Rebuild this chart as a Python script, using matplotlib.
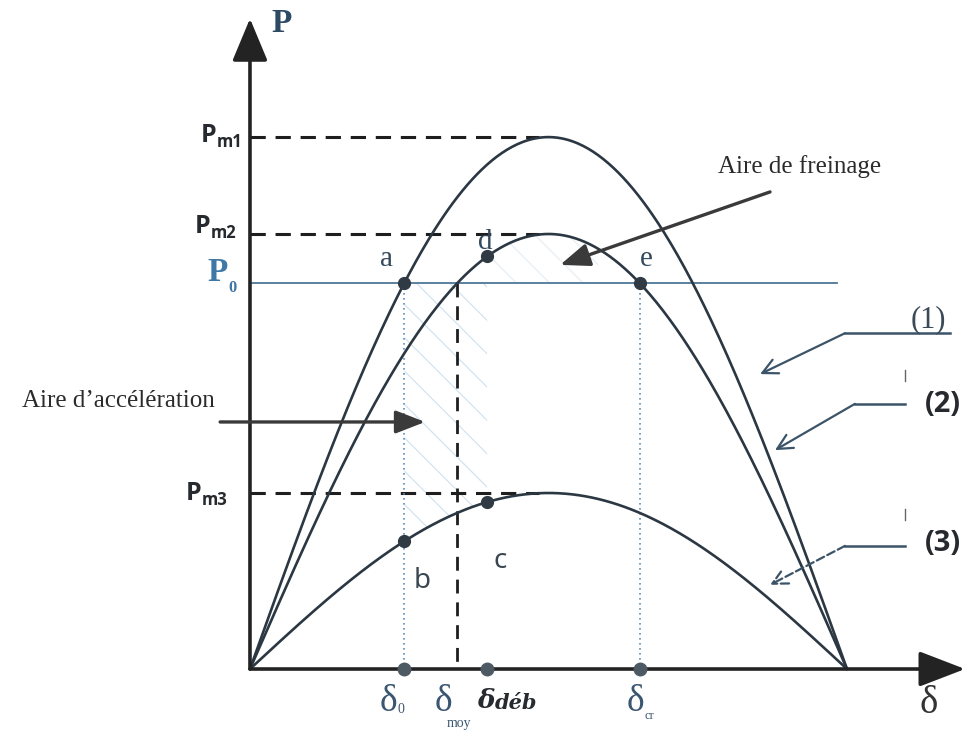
import numpy as np
import matplotlib
matplotlib.use("Agg")
import matplotlib.pyplot as plt

# power-angle curves P = Pm sin(delta), values in p.u. of the mechanical power P0
curve_names = ["(1)", "(2)", "(3)"]
p_max = [1.378, 1.127, 0.456]          # Pm1 (pre-fault), Pm2 (post-fault), Pm3 (during fault)
p_mech = 1.0                           # P0
delta_clear = 71.5                     # delta_deb, fault clearing angle (deg)
delta_brake_end = 105.0                # end of the hatched braking area (deg)

blue = "#3f78a6"

plt.rcParams["font.family"] = ["Liberation Serif", "DejaVu Sans"]
plt.rcParams["hatch.linewidth"] = 0.9

fig = plt.figure(figsize=(9.77, 7.31), dpi=100)
ax = fig.add_axes([0, 0, 1, 1])
ax.set_xlim(-75.37, 219.2)
ax.set_ylim(-0.1606, 1.7332)
ax.axis("off")

rad = np.radians
delta = np.linspace(0, 180, 361)
curves = [pm * np.sin(rad(delta)) for pm in p_max]

# characteristic angles
delta0 = np.degrees(np.arcsin(p_mech / p_max[0]))
delta_moy = np.degrees(np.arcsin(p_mech / p_max[1]))
delta_cr = 180 - delta_moy

# hatched areas (faint)
d_acc = np.linspace(delta0, delta_clear, 100)
ax.fill_between(d_acc, p_max[2] * np.sin(rad(d_acc)), p_mech, facecolor="none",
                edgecolor="#d3e3f0", hatch="\\", linewidth=0, zorder=1)
d_brk = np.linspace(delta_clear, delta_brake_end, 100)
ax.fill_between(d_brk, p_mech, p_max[1] * np.sin(rad(d_brk)), facecolor="none",
                edgecolor="#e6eef5", hatch="\\", linewidth=0, zorder=1)

# curves
for c in curves:
    ax.plot(delta, c, color="#2b3742", lw=1.9, zorder=3, solid_capstyle="round")

# Pm dashed levels
for pm in p_max:
    ax.plot([0, 87], [pm, pm], color="#1e1e1e", lw=2.2, dashes=(5, 3.2), zorder=2)

# P0 line
ax.plot([0, 177], [p_mech, p_mech], color="#4d7799", lw=1.3, zorder=2)

# verticals
ax.plot([delta0, delta0], [p_mech, 0], color="#5b8fc0", lw=1.2, ls=(0, (1, 2)), zorder=2)
ax.plot([delta_cr, delta_cr], [p_mech, 0], color="#5b8fc0", lw=1.2, ls=(0, (1, 2)), zorder=2)
ax.plot([delta_moy, delta_moy], [p_mech, 0], color="#1e1e1e", lw=2.0, dashes=(5, 3.2), zorder=2)

# axes with arrows
ax.annotate("", xy=(215.6, 0), xytext=(0, 0),
            arrowprops=dict(arrowstyle="-|>,head_length=1.3,head_width=0.5",
                            lw=2.6, color="#232323", mutation_scale=22, shrinkA=0, shrinkB=0))
ax.annotate("", xy=(0, 1.685), xytext=(0, 0),
            arrowprops=dict(arrowstyle="-|>,head_length=1.2,head_width=0.5",
                            lw=2.6, color="#232323", mutation_scale=22, shrinkA=0, shrinkB=0))

# operating points
pts = {
    "a": (delta0, p_mech),
    "b": (delta0, p_max[2] * np.sin(rad(delta0))),
    "c": (delta_clear, p_max[2] * np.sin(rad(delta_clear))),
    "d": (delta_clear, p_max[1] * np.sin(rad(delta_clear))),
    "e": (delta_cr, p_mech),
}
for x, y in pts.values():
    ax.plot(x, y, "o", color="#2f3a44", ms=8.5, zorder=5)
for x in [delta0, delta_clear, delta_cr]:
    ax.plot(x, 0, "o", color="#4e5a63", ms=9, zorder=5)

ax.text(pts["a"][0] - 5.5, pts["a"][1] + 0.045, "a", fontsize=21, color="#33495c",
        ha="center", va="baseline")
ax.text(pts["d"][0] - 0.5, pts["d"][1] + 0.02, "d", fontsize=21, color="#33495c",
        ha="center", va="baseline")
ax.text(pts["e"][0] + 2.0, pts["e"][1] + 0.045, "e", fontsize=21, color="#33495c",
        ha="center", va="baseline")
ax.text(pts["b"][0] + 5.5, pts["b"][1] - 0.12, "b", fontsize=20, color="#3a4650",
        family="Noto Sans", ha="center", va="baseline")
ax.text(pts["c"][0] + 4.0, pts["c"][1] - 0.17, "c", fontsize=20, color="#3a4650",
        family="Noto Sans", ha="center", va="baseline")


def sublabel(x, y, main, sub, size, subsize, dx, dy, **kw):
    ax.text(x, y, main, fontsize=size, ha="left", va="baseline", **kw)
    ax.annotate(sub, xy=(x, y), xytext=(dx, dy), textcoords="offset points",
                fontsize=subsize, ha="left", va="baseline", **kw)


# y-axis levels
sans_bold = dict(family="Open Sans", weight="bold", color="#262a2e")
sublabel(-14.8, 1.365, "P", "m1", 18, 12, 11.5, -3.6, **sans_bold)
sublabel(-16.6, 1.130, "P", "m2", 18, 12, 11.5, -3.6, **sans_bold)
sublabel(-19.3, 0.437, "P", "m3", 18, 12, 11.5, -3.6, **sans_bold)
sublabel(-12.8, 1.005, "P", "0", 24, 12, 15, -8, color=blue, weight="bold")

# axis titles
ax.text(6.5, 1.650, "P", fontsize=24, color="#2c4a63", weight="bold", va="baseline")
ax.text(204.5, -0.115, "δ", fontsize=28, color="#333333", ha="center", va="baseline")

# angle labels along the delta axis
dcol = "#3b5670"
sublabel(delta0 - 7.5, -0.108, "δ", "0", 27, 10, 13, -2, color=dcol)
sublabel(delta_moy - 7.0, -0.108, "δ", "moy", 27, 10, 9, -12, color=dcol)
sublabel(delta_clear - 3.0, -0.100, "δ", "déb", 19, 15, 13, -1,
         color="#262b30", family="DejaVu Serif", weight="bold", style="italic")
sublabel(delta_cr - 4.0, -0.108, "δ", "cr", 27, 9, 13, -6, color=dcol)

# area annotations
ax.text(165.8, 1.285, "Aire de freinage", fontsize=18, color="#2b2b2b",
        ha="center", va="baseline")
ax.annotate("", xy=(93.5, 1.047), xytext=(156.8, 1.236),
            arrowprops=dict(arrowstyle="-|>,head_length=0.9,head_width=0.35",
                            lw=2.4, color="#3a3a3a", mutation_scale=20, shrinkA=0, shrinkB=0))
ax.text(-39.8, 0.678, "Aire d’accélération", fontsize=18, color="#2b2b2b",
        ha="center", va="baseline")
ax.annotate("", xy=(52.8, 0.640), xytext=(-9.0, 0.640),
            arrowprops=dict(arrowstyle="-|>,head_length=0.9,head_width=0.35",
                            lw=2.4, color="#3a3a3a", mutation_scale=20, shrinkA=0, shrinkB=0))

# curve labels with leaders
lead = "#3c5468"
leaders = [
    ((211.0, 0.870), (179.4, 0.870), (153.8, 0.764), "-"),
    ((197.5, 0.687), (182.4, 0.687), (158.3, 0.567), "-"),
    ((197.5, 0.319), (179.4, 0.319), (156.8, 0.218), "--"),
]
for (x0, y0), (x1, y1), tip, ls in leaders:
    ax.plot([x0, x1], [y0, y1], color=lead, lw=1.8, ls="-")
    ax.annotate("", xy=tip, xytext=(x1, y1),
                arrowprops=dict(arrowstyle="->,head_length=0.6,head_width=0.3", lw=1.6,
                                color=lead, ls=ls, mutation_scale=18, shrinkA=0, shrinkB=0))
for y in [0.745, 0.385]:
    ax.plot([197.5, 197.5], [y, y + 0.03], color="#666666", lw=1)

ax.text(204.4, 0.885, curve_names[0], fontsize=22, color="#3b4a57", ha="center", va="baseline")
ax.text(209.0, 0.665, curve_names[1], fontsize=21, ha="center", va="baseline", **sans_bold)
ax.text(209.0, 0.305, curve_names[2], fontsize=21, ha="center", va="baseline", **sans_bold)

fig.savefig("out.png", dpi=100, facecolor="white")
